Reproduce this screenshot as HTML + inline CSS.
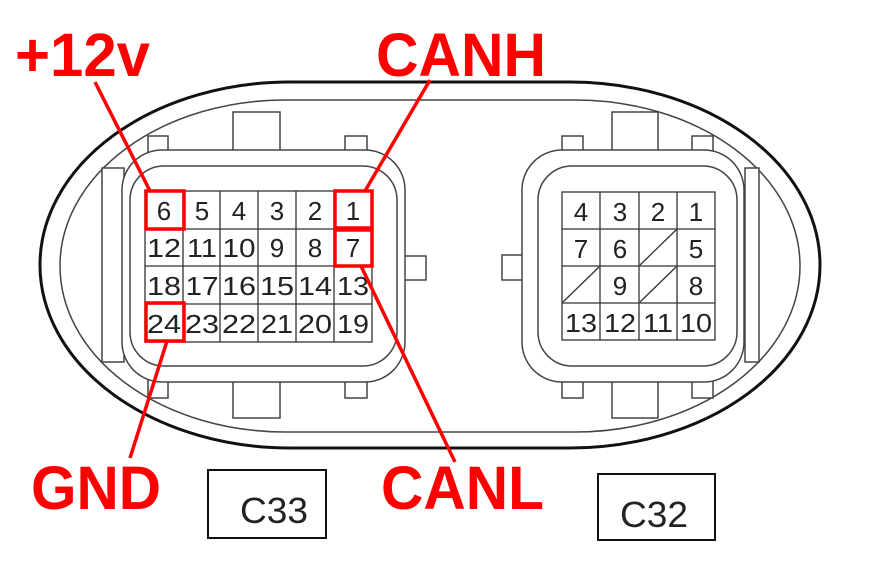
<!DOCTYPE html>
<html><head><style>html,body{margin:0;padding:0;background:#fff}svg{display:block}</style></head>
<body>
<svg width="873" height="569" viewBox="0 0 873 569" xmlns="http://www.w3.org/2000/svg" font-family="Liberation Sans, sans-serif">
<g fill="none" stroke="#111">
<rect x="40" y="82" width="780" height="366" rx="250" ry="183" stroke-width="3"/>
<rect x="60" y="100" width="740" height="332" rx="225" ry="166" stroke-width="1.5" stroke="#444"/>
</g>
<g fill="#fff" stroke="#444" stroke-width="1.5">
<rect x="233" y="112" width="47" height="40"/>
<rect x="233" y="378" width="47" height="40"/>
<rect x="148" y="136" width="20" height="20"/>
<rect x="345" y="136" width="22" height="20"/>
<rect x="148" y="378" width="20" height="20"/>
<rect x="345" y="378" width="22" height="20"/>
<rect x="102" y="168" width="22" height="194"/>
<rect x="400" y="256" width="26" height="24"/>
<rect x="122" y="150" width="283" height="232" rx="40"/>
<rect x="130" y="166" width="267" height="200" rx="34"/>
<rect x="612" y="112" width="46" height="40"/>
<rect x="612" y="378" width="46" height="40"/>
<rect x="562" y="136" width="21" height="20"/>
<rect x="692" y="136" width="21" height="20"/>
<rect x="562" y="378" width="21" height="20"/>
<rect x="692" y="378" width="21" height="20"/>
<rect x="502" y="255" width="26" height="25"/>
<rect x="745" y="168" width="14" height="194"/>
<rect x="522" y="150" width="222" height="232" rx="40"/>
<rect x="538" y="166" width="199" height="200" rx="34"/>
</g>
<g stroke="#333" stroke-width="1.3" fill="none">
<rect x="145" y="191" width="227" height="151"/>
<line x1="183" y1="191" x2="183" y2="342"/><line x1="220" y1="191" x2="220" y2="342"/>
<line x1="258" y1="191" x2="258" y2="342"/><line x1="296" y1="191" x2="296" y2="342"/>
<line x1="334" y1="191" x2="334" y2="342"/>
<line x1="145" y1="229" x2="372" y2="229"/><line x1="145" y1="266" x2="372" y2="266"/><line x1="145" y1="304" x2="372" y2="304"/>
</g>
<g font-size="26" fill="#222" text-anchor="middle">
<text x="164" y="220">6</text><text x="202" y="220">5</text><text x="239" y="220">4</text><text x="277" y="220">3</text><text x="315" y="220">2</text><text x="353" y="220">1</text>
<text x="164" y="257" textLength="34" lengthAdjust="spacingAndGlyphs">12</text><text x="202" y="257" textLength="30" lengthAdjust="spacingAndGlyphs">11</text><text x="239" y="257" textLength="33" lengthAdjust="spacingAndGlyphs">10</text><text x="277" y="257">9</text><text x="315" y="257">8</text><text x="353" y="257">7</text>
<text x="164" y="295" textLength="34" lengthAdjust="spacingAndGlyphs">18</text><text x="202" y="295" textLength="33" lengthAdjust="spacingAndGlyphs">17</text><text x="239" y="295" textLength="34" lengthAdjust="spacingAndGlyphs">16</text><text x="277" y="295" textLength="34" lengthAdjust="spacingAndGlyphs">15</text><text x="315" y="295" textLength="34" lengthAdjust="spacingAndGlyphs">14</text><text x="353" y="295" textLength="32" lengthAdjust="spacingAndGlyphs">13</text>
<text x="164" y="333" textLength="34" lengthAdjust="spacingAndGlyphs">24</text><text x="202" y="333" textLength="34" lengthAdjust="spacingAndGlyphs">23</text><text x="239" y="333" textLength="34" lengthAdjust="spacingAndGlyphs">22</text><text x="277" y="333" textLength="32" lengthAdjust="spacingAndGlyphs">21</text><text x="315" y="333" textLength="34" lengthAdjust="spacingAndGlyphs">20</text><text x="353" y="333" textLength="32" lengthAdjust="spacingAndGlyphs">19</text>
</g>
<g stroke="#333" stroke-width="1.3" fill="none">
<rect x="562" y="192" width="153" height="148"/>
<line x1="600" y1="192" x2="600" y2="340"/><line x1="639" y1="192" x2="639" y2="340"/><line x1="677" y1="192" x2="677" y2="340"/>
<line x1="562" y1="229" x2="715" y2="229"/><line x1="562" y1="266" x2="715" y2="266"/><line x1="562" y1="303" x2="715" y2="303"/>
<line x1="563" y1="302" x2="599" y2="267"/><line x1="640" y1="265" x2="676" y2="230"/><line x1="640" y1="302" x2="676" y2="267"/>
</g>
<g font-size="26" fill="#222" text-anchor="middle">
<text x="581" y="221">4</text><text x="620" y="221">3</text><text x="658" y="221">2</text><text x="696" y="221">1</text>
<text x="581" y="258">7</text><text x="620" y="258">6</text><text x="696" y="258">5</text>
<text x="620" y="295">9</text><text x="696" y="295">8</text>
<text x="581" y="332" textLength="32" lengthAdjust="spacingAndGlyphs">13</text><text x="620" y="332" textLength="32" lengthAdjust="spacingAndGlyphs">12</text><text x="658" y="332" textLength="30" lengthAdjust="spacingAndGlyphs">11</text><text x="696" y="332" textLength="32" lengthAdjust="spacingAndGlyphs">10</text>
</g>
<g stroke="#f00" stroke-width="3.5" fill="none">
<rect x="146" y="191" width="38" height="38"/>
<rect x="335" y="191" width="37" height="37"/>
<rect x="335" y="230" width="37" height="36"/>
<rect x="146" y="303" width="38" height="38"/>
<line x1="95" y1="82" x2="150" y2="191"/>
<line x1="430" y1="80" x2="365" y2="191"/>
<line x1="361" y1="266" x2="455" y2="462"/>
<line x1="167" y1="341" x2="130" y2="458"/>
</g>
<g fill="#f00" font-weight="bold" font-size="61">
<text x="15" y="76" textLength="135" lengthAdjust="spacingAndGlyphs">+12v</text>
<text x="376" y="76" textLength="170" lengthAdjust="spacingAndGlyphs">CANH</text>
<text x="31" y="509" textLength="130" lengthAdjust="spacingAndGlyphs">GND</text>
<text x="381" y="509" textLength="163" lengthAdjust="spacingAndGlyphs">CANL</text>
</g>
<g fill="none" stroke="#111" stroke-width="2">
<rect x="208" y="470" width="118" height="68"/>
<rect x="598" y="474" width="117" height="66"/>
</g>
<g font-size="36" fill="#222">
<text x="240" y="523" textLength="68" lengthAdjust="spacingAndGlyphs">C33</text>
<text x="620" y="527" textLength="68" lengthAdjust="spacingAndGlyphs">C32</text>
</g>
</svg>
</body></html>
